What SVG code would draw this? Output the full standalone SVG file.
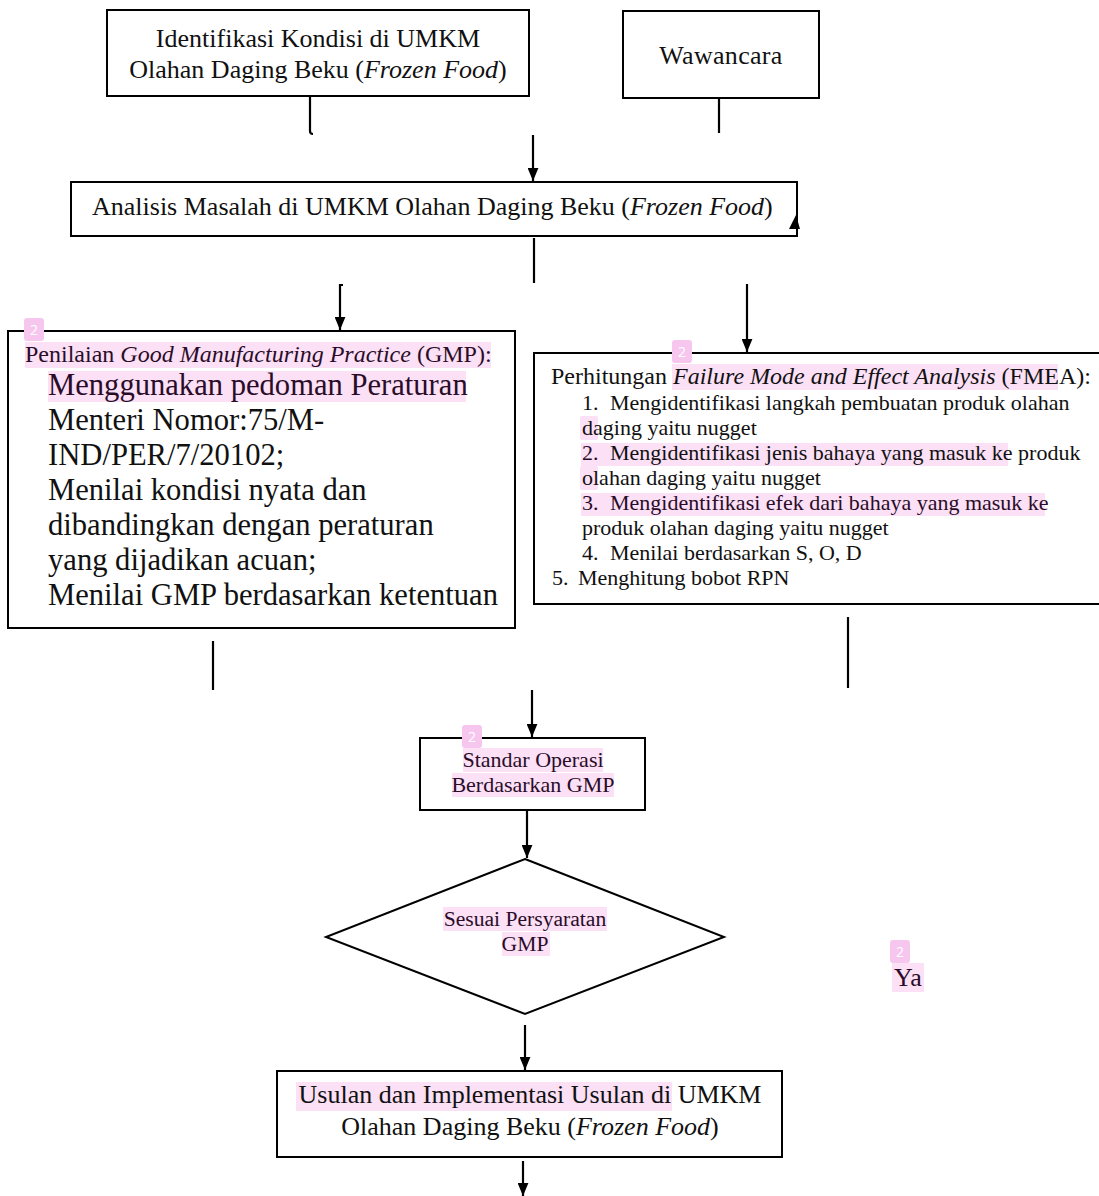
<svg xmlns="http://www.w3.org/2000/svg" width="1099" height="1196" viewBox="0 0 1099 1196">
<style>
.box{fill:none;stroke:#000;stroke-width:2}
.ln{fill:none;stroke:#000;stroke-width:2.2}
.t{font-family:"Liberation Serif","Times New Roman",serif;fill:#111}
.h{fill:#2a0c28}
.c{text-anchor:middle}
.hl{fill:#fbe0f6}
.bd{fill:#f7c6ef}
.bt{font-family:"Open Sans","DejaVu Sans",sans-serif;font-size:14px;fill:#fff;text-anchor:middle}
.big{font-size:30.6px}
</style>
<defs>
<marker id="ah" markerWidth="13" markerHeight="11" refX="12" refY="5" orient="auto" markerUnits="userSpaceOnUse" viewBox="0 0 12 10">
<path d="M0,0 L12,5 L0,10 Z" fill="#000"/>
</marker>
</defs>
<rect width="1099" height="1196" fill="#fff"/>

<g id="connectors">
<path class="ln" d="M310,97 V131 Q310,134 313,134"/>
<path class="ln" d="M719,99 V133"/>
<path class="ln" d="M533,135 V181" marker-end="url(#ah)"/>
<path class="ln" d="M534,238 V283"/>
<path class="ln" d="M343,285 H340 V330" marker-end="url(#ah)"/>
<path class="ln" d="M747,284 V352" marker-end="url(#ah)"/>
<path d="M789,229 L800,229 L796,215 Z" fill="#000"/>
<path class="ln" d="M213,641 V690"/>
<path class="ln" d="M848,617 V688"/>
<path class="ln" d="M532,690 V737" marker-end="url(#ah)"/>
<path class="ln" d="M527,811 V858" marker-end="url(#ah)"/>
<path class="ln" d="M525,1025 V1070" marker-end="url(#ah)"/>
<path class="ln" d="M523,1161 V1196" marker-end="url(#ah)"/>
</g>

<g id="n-identifikasi">
<rect class="box" x="107" y="10" width="422" height="86"/>
<text class="t c" x="318" y="47" font-size="26">Identifikasi Kondisi di UMKM</text>
<text class="t c" x="318" y="78" font-size="26">Olahan Daging Beku (<tspan font-style="italic">Frozen Food</tspan>)</text>
</g>

<g id="n-wawancara">
<rect class="box" x="623" y="11" width="196" height="87"/>
<text class="t c" x="721" y="64" font-size="26" letter-spacing="0.3">Wawancara</text>
</g>

<g id="n-analisis">
<rect class="box" x="71" y="182" width="726" height="54"/>
<text class="t" x="92" y="215" font-size="26">Analisis Masalah di UMKM Olahan Daging Beku (<tspan font-style="italic">Frozen Food</tspan>)</text>
</g>

<g id="n-gmp">
<rect class="box" x="8" y="331" width="507" height="297"/>
<rect class="hl" x="25" y="342" width="466" height="26"/>
<rect class="hl" x="48" y="371" width="418" height="31"/>
<rect class="bd" x="24" y="318" width="20" height="23" rx="3"/>
<text class="bt" x="34" y="335">2</text>
<text class="t h" x="25" y="362" font-size="24">Penilaian <tspan font-style="italic">Good Manufacturing Practice</tspan> (GMP):</text>
<text class="t h big" x="48" y="395">Menggunakan pedoman Peraturan</text>
<text class="t big" x="48" y="430">Menteri Nomor:75/M-</text>
<text class="t big" x="48" y="465">IND/PER/7/20102;</text>
<text class="t big" x="48" y="500">Menilai kondisi nyata dan</text>
<text class="t big" x="48" y="535">dibandingkan dengan peraturan</text>
<text class="t big" x="48" y="570">yang dijadikan acuan;</text>
<text class="t big" x="48" y="605">Menilai GMP berdasarkan ketentuan</text>
</g>

<g id="n-fmea">
<rect class="box" x="534" y="353" width="570" height="251"/>
<rect class="hl" x="672" y="364" width="386" height="26"/>
<rect class="hl" x="580" y="416" width="18" height="24" rx="2"/>
<rect class="hl" x="581" y="443" width="427" height="23"/>
<rect class="hl" x="580" y="466" width="18" height="24" rx="2"/>
<rect class="hl" x="581" y="493" width="464" height="23"/>
<rect class="bd" x="672" y="340" width="20" height="23" rx="3"/>
<text class="bt" x="682" y="357">2</text>
<text class="t" x="551" y="384" font-size="24">Perhitungan <tspan font-style="italic">Failure Mode and Effect Analysis</tspan> (FMEA):</text>
<text class="t" x="582" y="410" font-size="22">1.</text>
<text class="t" x="610" y="410" font-size="22">Mengidentifikasi langkah pembuatan produk olahan</text>
<text class="t" x="582" y="435" font-size="22">daging yaitu nugget</text>
<text class="t h" x="582" y="460" font-size="22">2.</text>
<text class="t" x="610" y="460" font-size="22">Mengidentifikasi jenis bahaya yang masuk ke produk</text>
<text class="t" x="582" y="485" font-size="22">olahan daging yaitu nugget</text>
<text class="t h" x="582" y="510" font-size="22">3.</text>
<text class="t h" x="610" y="510" font-size="22">Mengidentifikasi efek dari bahaya yang masuk ke</text>
<text class="t" x="582" y="535" font-size="22">produk olahan daging yaitu nugget</text>
<text class="t" x="582" y="560" font-size="22">4.</text>
<text class="t" x="610" y="560" font-size="22">Menilai berdasarkan S, O, D</text>
<text class="t" x="552" y="585" font-size="22">5.</text>
<text class="t" x="578" y="585" font-size="22">Menghitung bobot RPN</text>
</g>

<g id="n-standar">
<rect class="box" x="420" y="738" width="225" height="72"/>
<rect class="hl" x="463" y="748" width="140" height="24"/>
<rect class="hl" x="452" y="773" width="162" height="24"/>
<rect class="bd" x="462" y="725" width="20" height="23" rx="3"/>
<text class="bt" x="472" y="742">2</text>
<text class="t c h" x="533" y="767" font-size="22">Standar Operasi</text>
<text class="t c h" x="533" y="792" font-size="22">Berdasarkan GMP</text>
</g>

<g id="n-sesuai">
<path class="box" d="M525,859 L724,937 L525,1014 L326,937 Z"/>
<rect class="hl" x="443" y="907" width="164" height="24"/>
<rect class="hl" x="502" y="932" width="48" height="24"/>
<text class="t c h" x="525" y="926" font-size="21.6">Sesuai Persyaratan</text>
<text class="t c h" x="525" y="951" font-size="21.6">GMP</text>
</g>

<g id="n-ya">
<rect class="hl" x="892" y="963" width="32" height="29"/>
<rect class="bd" x="890" y="940" width="20" height="23" rx="3"/>
<text class="bt" x="900" y="957">2</text>
<text class="t h" x="894" y="986" font-size="26">Ya</text>
</g>

<g id="n-usulan">
<rect class="box" x="277" y="1071" width="505" height="86"/>
<rect class="hl" x="296" y="1082" width="376" height="29"/>
<text class="t c" x="530" y="1103" font-size="26">Usulan dan Implementasi Usulan di UMKM</text>
<text class="t c" x="530" y="1135" font-size="26">Olahan Daging Beku (<tspan font-style="italic">Frozen Food</tspan>)</text>
</g>
</svg>
